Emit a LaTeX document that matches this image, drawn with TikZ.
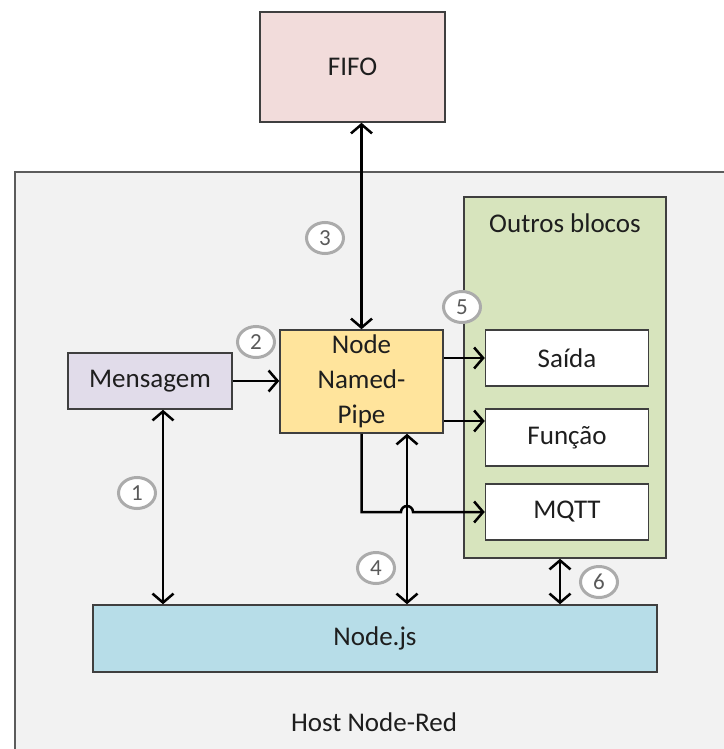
\documentclass[tikz,border=0pt]{standalone}
\usepackage{fontspec}
\setmainfont{Carlito}
\usetikzlibrary{arrows.meta,shapes.geometric}
\definecolor{ink}{HTML}{3F3F3F}
\definecolor{txt}{HTML}{1E1E1E}
\definecolor{ring}{HTML}{ABABAB}
\definecolor{numtxt}{HTML}{5A5A5A}
\definecolor{hostbg}{HTML}{F2F2F2}
\definecolor{fifobg}{HTML}{F2DCDB}
\definecolor{msgbg}{HTML}{E1DCEA}
\definecolor{pipebg}{HTML}{FFE49C}
\definecolor{outbg}{HTML}{D7E4BD}
\definecolor{jsbg}{HTML}{B7DDE8}
\tikzset{
  blk/.style={draw=ink, fill=#1, line width=1.5pt, align=center, inner sep=0pt,
    font=\fontsize{27}{35}\selectfont, text=txt},
  blk/.default=white,
  num/.style={ellipse, draw=ring, fill=white, line width=3pt, minimum width=37pt,
    minimum height=31pt, inner sep=0pt, font=\fontsize{23}{23}\selectfont, text=numtxt},
  lbl/.style={font=\fontsize{27}{35}\selectfont, text=txt},
  one/.style={-{Straight Barb[length=9pt,width=21pt]}, line width=2.5pt, color=black},
  two/.style={{Straight Barb[length=9pt,width=21pt]}-{Straight Barb[length=9pt,width=21pt]},
    line width=2.5pt, color=black},
}
\begin{document}
\begin{tikzpicture}[x=1pt,y=-1pt]
  \useasboundingbox (0,0) rectangle (723,749);
  % host and fifo
  \node[blk=hostbg, draw=ink!85, anchor=north west, minimum width=711pt, minimum height=580pt] (host) at (14,171) {};
  \node[lbl] (hostlbl) at (374,722) {Host Node-Red};
  \node[blk=fifobg, minimum width=185pt, minimum height=110pt] (fifo) at (352.5,67) {FIFO};
  % other blocks
  \node[blk=outbg, minimum width=202pt, minimum height=361pt] (outros) at (565,377.5) {};
  \node[lbl] (outroslbl) at (565,223) {Outros blocos};
  \node[blk, minimum width=163pt, minimum height=56pt] (saida) at (567,358) {Saída};
  \node[blk, minimum width=163pt, minimum height=57pt] (funcao) at (567,437.5) {Função};
  \node[blk, minimum width=163pt, minimum height=56pt] (mqtt) at (567,512) {MQTT};
  % main blocks
  \node[blk=pipebg, minimum width=163pt, minimum height=103pt] (pipe) at (361.5,381.5) {Node\\Named-\\Pipe};
  \node[blk=msgbg, minimum width=164pt, minimum height=56pt] (msg) at (150,381) {Mensagem};
  \node[blk=jsbg, minimum width=564pt, minimum height=67pt] (nodejs) at (375,638.5) {Node.js};
  % connectors
  \coordinate (j) at (407,0);
  \draw[two] (fifo.south -| pipe.north) -- (pipe.north);
  \draw[one] (msg.east) -- (msg.east -| pipe.west);
  \draw[two] ([xshift=13pt]msg.south) -- ([xshift=13pt]msg.south |- nodejs.north);
  \draw[two] (pipe.south -| j) -- (nodejs.north -| j);
  \draw[one] (pipe.east |- saida.west) -- (saida.west);
  \draw[one] ([yshift=-39.5pt]pipe.east) coordinate (f1) -- (f1 -| funcao.west);
  \draw[one] (pipe.south) |- ([xshift=-6pt]mqtt.west -| j)
    arc[start angle=180, end angle=0, radius=6pt] -- (mqtt.west);
  \draw[two] ([xshift=-5pt]outros.south) -- ([xshift=-5pt]outros.south |- nodejs.north);
  % numbers
  \node[num] (n1) at (137,493) {1};
  \node[num] (n2) at (256,342) {2};
  \node[num] (n3) at (325,238) {3};
  \node[num] (n4) at (376,568) {4};
  \node[num] (n5) at (462,307) {5};
  \node[num] (n6) at (599,582) {6};
\end{tikzpicture}
\end{document}
